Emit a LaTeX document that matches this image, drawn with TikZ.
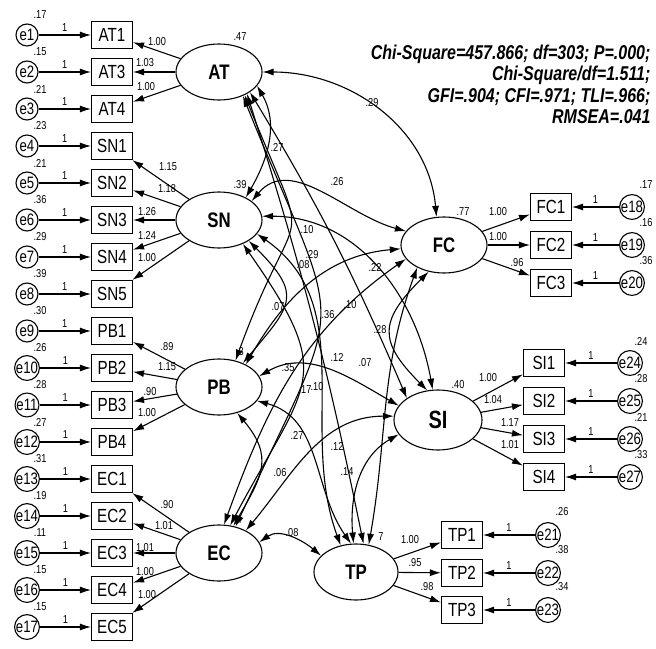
\documentclass[tikz,border=0pt]{standalone}
\usepackage{fontspec}
\setmainfont{Liberation Sans}[FakeStretch=0.8]
\usetikzlibrary{arrows.meta, shapes.geometric}

\begin{document}
\begin{tikzpicture}[
  x=1pt, y=1pt,
  line width=1.1pt,
  latent/.style={ellipse, draw, minimum width=86pt, minimum height=56pt, inner sep=0pt,
    font=\fontsize{21}{21}\selectfont\bfseries},
  obs/.style={rectangle, draw, minimum width=41pt, minimum height=27pt, inner sep=0pt,
    font=\fontsize{19}{19}\selectfont},
  err/.style={circle, draw, minimum size=22pt, inner sep=0pt, font=\fontsize{16.5}{16.5}\selectfont},
  num/.style={font=\fontsize{11.5}{11.5}\selectfont, inner sep=0pt},
  fittext/.style={font=\fontsize{20}{21.5}\selectfont\bfseries\itshape, align=right, inner sep=0pt},
  load/.style={-{Latex[length=11pt, width=7pt]}},
  cov/.style={{Latex[length=11pt, width=7pt]}-{Latex[length=11pt, width=7pt]}},
]
\useasboundingbox (0,0) rectangle (656,-648);

% === Latent factors ===
\node[latent] (AT) at (219,-72)  {AT};
\node[latent] (SN) at (219,-220) {SN};
\node[latent] (PB) at (219,-387) {PB};
\node[latent] (EC) at (219,-553) {EC};
\node[latent] (FC) at (444,-245) {FC};
\node[latent, minimum width=88pt, minimum height=60pt, font=\fontsize{25}{25}\selectfont\bfseries] (SI) at (438,-420) {SI};
\node[latent, minimum width=84pt] (TP) at (356,-572) {TP};

% factor variances
\node[num] (vAT) at (240,-37)  {.47};
\node[num] (vSN) at (240,-185) {.39};
\node[num] (vPB) at (240,-352) {.3};
\node[num] (vEC) at (238,-520) {.4};
\node[num] (vFC) at (463,-212) {.77};
\node[num] (vSI) at (458,-385) {.40};
\node[num] (vTP) at (381,-537) {7};

% === Left indicators with error terms ===
\foreach \ob/\er/\ev [count=\i] in {AT1/e1/.17, AT3/e2/.15, AT4/e3/.21,
    SN1/e4/.23, SN2/e5/.21, SN3/e6/.36, SN4/e7/.29, SN5/e8/.39,
    PB1/e9/.30, PB2/e10/.26, PB3/e11/.28, PB4/e12/.27,
    EC1/e13/.31, EC2/e14/.19, EC3/e15/.11, EC4/e16/.15, EC5/e17/.15}{
  \node[err] (\er) at (27,{-35-37*(\i-1)}) {\er};
  \node[obs] (\ob) at (112,{-35-37*(\i-1)}) {\ob};
  \node[num] (v\er) at (40,{-15-37*(\i-1)}) {\ev};
  \draw[load] (\er) -- node[num, above=3pt] (w\er) {1} (\ob);
}

% === Right indicators with error terms ===
\foreach \ob/\er/\ev/\y in {FC1/e18/.17/207, FC2/e19/.16/245, FC3/e20/.36/283}{
  \node[obs] (\ob) at (551,-\y) {\ob};
  \node[err] (\er) at (632,-\y) {\er};
  \node[num] (v\er) at (646,{-\y+22}) {\ev};
  \draw[load] (\er) -- node[num, above=3pt] (w\er) {1} (\ob);
}
\foreach \ob/\er/\ev/\y in {SI1/e24/.24/363, SI2/e25/.28/401, SI3/e26/.21/439, SI4/e27/.33/477}{
  \node[obs] (\ob) at (544,-\y) {\ob};
  \node[err] (\er) at (630,-\y) {\er};
  \node[num] (v\er) at (641,{-\y+22}) {\ev};
  \draw[load] (\er) -- node[num, above=3pt] (w\er) {1} (\ob);
}
\foreach \ob/\er/\ev/\y in {TP1/e21/.26/535, TP2/e22/.38/573, TP3/e23/.34/610}{
  \node[obs] (\ob) at (462,-\y) {\ob};
  \node[err] (\er) at (548,-\y) {\er};
  \node[num] (v\er) at (562,{-\y+23}) {\ev};
  \draw[load] (\er) -- node[num, above=3pt] (w\er) {1} (\ob);
}

% === Factor loadings ===
\foreach \f/\ob in {AT/AT1, AT/AT3, AT/AT4, SN/SN1, SN/SN2, SN/SN3, SN/SN4, SN/SN5,
    PB/PB1, PB/PB2, PB/PB3, PB/PB4, EC/EC1, EC/EC2, EC/EC3, EC/EC4, EC/EC5,
    FC/FC1, FC/FC2, FC/FC3, SI/SI1, SI/SI2, SI/SI3, SI/SI4, TP/TP1, TP/TP2, TP/TP3}
  \draw[load] (\f) -- (\ob);

\foreach \v/\x/\y [count=\k] in {1.00/157/42, 1.03/145/63, 1.00/146/87,
    1.15/168/167, 1.18/167/189, 1.26/147/212, 1.24/147/235, 1.00/147/258,
    .89/167/347, 1.15/167/367, .90/150/392, 1.00/147/413,
    .90/167/505, 1.01/164/526, 1.01/145/548, 1.00/145/572, 1.00/147/595,
    1.00/498/212, 1.00/498/237, .96/517/263,
    1.00/488/378, 1.04/493/400, 1.17/510/423, 1.01/510/445,
    1.00/410/540, .95/415/563, .98/427/587}
  \node[num] (l\k) at (\x,-\y) {\v};

% === Covariances ===
\draw[cov] (AT.east) to[out=0, in=95] (FC.105);
\draw[cov] (AT.-20) to[out=-60, in=60] (SN.40);
\draw[cov] (AT.-33) to[bend left=4] (SI.145);
\draw[cov] (AT.-38) to[bend left=3] (TP.75);
\draw[cov] (AT.-45) to[out=-68, in=65, looseness=1.6] (EC.58);
\draw[cov] (AT.-42) to[out=-68, in=70, looseness=1.8] (PB.58);
\draw[cov] (SN.30) to[out=50, in=165] (FC.160);
\draw[cov] (SN.5) to[out=0, in=100] (SI.100);
\draw[cov] (SN.-20) to[out=-35, in=110] (TP.120);
\draw[cov] (SN.-35) to[out=-45, in=50, looseness=1.6] (PB.45);
\draw[cov] (SN.-45) to[out=-55, in=62, looseness=1.5] (EC.68);
\draw[cov] (PB.40) to[out=60, in=185] (FC.185);
\draw[cov] (PB.15) to[out=30, in=150] (SI.160);
\draw[cov] (PB.-20) to[out=-15, in=125] (TP.100);
\draw[cov] (PB.-55) to[out=-50, in=60, looseness=1.3] (EC.62);
\draw[cov] (FC.-120) to[out=-135, in=135, looseness=1.5] (SI.110);
\draw[cov] (FC.-140) to[out=-110, in=80] (TP.65);
\draw[cov] (FC.200) to[out=215, in=70] (EC.80);
\draw[cov] (SI.200) to[out=210, in=95] (TP.95);
\draw[cov] (SI.175) to[out=180, in=50] (EC.40);
\draw[cov] (EC.15) to[out=35, in=140] (TP.155);

\foreach \v/\x/\y [count=\k] in {.29/372/103, .27/277/147, .26/337/182, .10/307/230,
    .29/312/255, .08/303/265, .22/375/267, .07/278/307, .10/350/305, .36/328/315,
    .28/380/330, .12/337/357, .07/365/363, .35/288/368, .17/305/390, .10/317/387,
    .27/297/435, .12/337/446, .14/347/472, .06/280/473, .08/292/533}
  \node[num] (c\k) at (\x,-\y) {\v};

% === Fit indices ===
\node[fittext, anchor=north east] (fit) at (651,-44) {Chi-Square=457.866; df=303; P=.000;\\
  Chi-Square/df=1.511;\\ GFI=.904; CFI=.971; TLI=.966;\\ RMSEA=.041};

\end{tikzpicture}
\end{document}
